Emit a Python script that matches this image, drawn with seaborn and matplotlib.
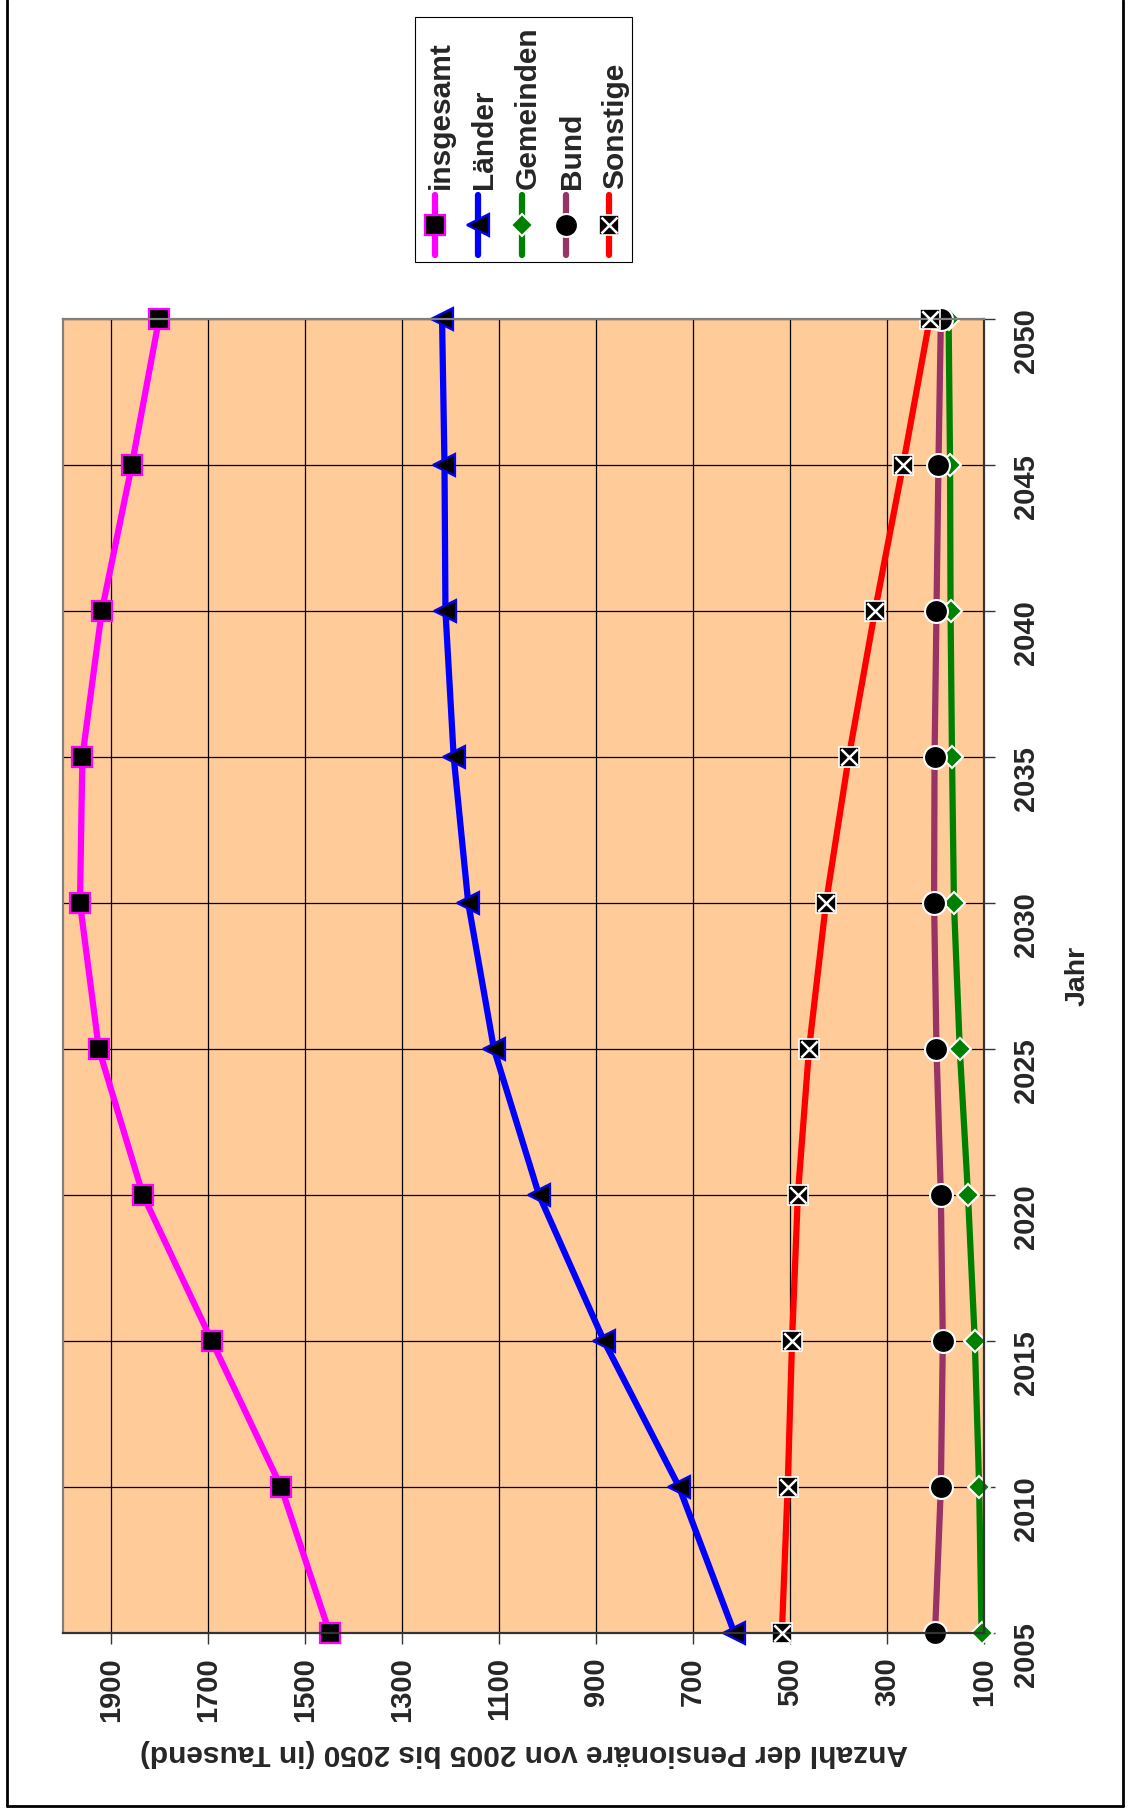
import matplotlib
matplotlib.use("Agg")
import matplotlib.pyplot as plt
import seaborn as sns
import pandas as pd
from matplotlib.lines import Line2D
from matplotlib.patches import Rectangle

# ---------------- data ----------------
years = [2005, 2010, 2015, 2020, 2025, 2030, 2035, 2040, 2045, 2050]
insgesamt = [1450, 1550, 1693, 1835, 1926, 1965, 1960, 1920, 1858, 1802]
laender = [615, 729, 884, 1018, 1111, 1164, 1194, 1211, 1213, 1218]
gemeinden = [105, 110, 119, 133, 150, 162, 166, 169, 170, 173]
bund = [201, 189, 185, 189, 198, 203, 202, 198, 194, 189]
sonstige = [517, 505, 496, 484, 461, 426, 379, 325, 267, 212]
series_names = ["insgesamt", "Länder", "Gemeinden", "Bund", "Sonstige"]
series_values = [insgesamt, laender, gemeinden, bund, sonstige]
value_ticks = [100, 300, 500, 700, 900, 1100, 1300, 1500, 1700, 1900]
x_label = "Anzahl der Pensionäre von 2005 bis 2050 (in Tausend)"
y_label = "Jahr"

# ---------------- style ----------------
sns.set_style("white")
plt.rcParams["font.family"] = ["Liberation Sans", "DejaVu Sans"]
plt.rcParams["font.weight"] = "bold"

W, H = 1128, 1812
fig = plt.figure(figsize=(W / 100, H / 100), dpi=100)
fig.patch.set_facecolor("white")

ax = fig.add_axes([63 / W, 1 - 1633 / H, 921 / W, 1314 / H])
ax.set_facecolor("#FFCC99")

styles = {
    "insgesamt": dict(color="#FF00FF", marker="s", ms=14.5, mfc="black", mec="#FF00FF", mew=1.6),
    "Länder": dict(color="#0000FF", marker="<", ms=15.5, mfc="black", mec="#0000FF", mew=1.6),
    "Gemeinden": dict(color="#008000", marker="D", ms=11, mfc="#008000", mec="white", mew=1.5),
    "Bund": dict(color="#993366", marker="o", ms=16.5, mfc="black", mec="white", mew=1.5),
    "Sonstige": dict(color="#FF0000", marker="s", ms=14, mfc="black", mec="white", mew=1.2),
}
LW = 4.5

df = pd.DataFrame(
    [(n, y, v) for n, vals in zip(series_names, series_values) for y, v in zip(years, vals)],
    columns=["Reihe", "Jahr", "Wert"],
)

for name in series_names:
    sub = df[df["Reihe"] == name]
    st = styles[name]
    sns.lineplot(data=sub, x="Wert", y="Jahr", orient="y", estimator=None,
                 ax=ax, lw=LW, clip_on=False, legend=False, **st)
    if name == "Sonstige":
        sns.scatterplot(data=sub, x="Wert", y="Jahr", marker="x", s=140,
                        color="white", linewidth=1.8, ax=ax, zorder=3,
                        clip_on=False, legend=False)

ax.set_xlim(2000, 100)
ax.set_ylim(2005, 2050)

ax.set_axisbelow(True)
ax.grid(True, color="black", lw=0.9)

ax.set_xticks(value_ticks)
ax.set_xticklabels([str(v) for v in value_ticks], rotation=90)
ax.yaxis.tick_right()
ax.set_yticks(years)
ax.set_yticklabels([str(y) for y in years], rotation=90)
ax.tick_params(axis="x", direction="out", length=8, width=1, color="#333333",
               labelsize=21, pad=9.5, bottom=True)
ax.tick_params(axis="y", direction="out", length=8, width=1, color="#333333",
               labelsize=21, pad=12.5, right=True, left=False)
for lab in ax.get_xticklabels() + ax.get_yticklabels():
    lab.set_fontweight("bold")

for side, col in [("top", "#808080"), ("left", "#808080"),
                  ("right", "#333333"), ("bottom", "#333333")]:
    ax.spines[side].set_visible(True)
    ax.spines[side].set_color(col)
    ax.spines[side].set_linewidth(1.6)

ax.set_xlabel(x_label, fontsize=21.5, fontweight="bold", rotation=180)
ax.xaxis.set_label_coords(0.5, -0.0913)
ax.xaxis.label.set_va("center")
ax.xaxis.label.set_ha("center")
ax.yaxis.set_label_position("right")
ax.set_ylabel(y_label, fontsize=20.5, fontweight="bold", rotation=90)
ax.yaxis.set_label_coords(1.102, 0.5)
ax.yaxis.label.set_va("center")
ax.yaxis.label.set_ha("center")


# ---------------- legend (drawn rotated) ----------------
def fx(px):
    return px / W


def fy(py):
    return 1 - py / H


fig.add_artist(Rectangle((fx(415), fy(262)), 217 / W, 245 / H, transform=fig.transFigure,
                         facecolor="white", edgecolor="black", lw=0.8, zorder=5))
entry_x = [435, 478, 522, 566, 609]
for name, ex in zip(series_names, entry_x):
    st = styles[name]
    fig.add_artist(Line2D([fx(ex), fx(ex)], [fy(195), fy(255)], transform=fig.transFigure,
                          color=st["color"], lw=LW, solid_capstyle="round", zorder=6))
    fig.add_artist(Line2D([fx(ex)], [fy(225)], transform=fig.transFigure, linestyle="none",
                          marker=st["marker"], ms=st["ms"], mfc=st["mfc"], mec=st["mec"],
                          mew=st["mew"], zorder=7))
    if name == "Sonstige":
        fig.add_artist(Line2D([fx(ex)], [fy(225)], transform=fig.transFigure, linestyle="none",
                              marker="x", ms=11.5, mec="white", mew=1.8, zorder=8))
    fig.text(fx(ex + 14), fy(189), name, rotation=90, rotation_mode="anchor",
             ha="left", va="baseline", fontsize=21.5, fontweight="bold", zorder=8)

# ---------------- outer frame ----------------
fig.add_artist(Line2D([fx(7), fx(7)], [fy(0), fy(1806)], transform=fig.transFigure,
                      color="black", lw=2))
fig.add_artist(Line2D([fx(7), fx(1123)], [fy(1806), fy(1806)], transform=fig.transFigure,
                      color="black", lw=2))
fig.add_artist(Line2D([fx(1123), fx(1123)], [fy(0), fy(1806)], transform=fig.transFigure,
                      color="black", lw=2))

fig.savefig("out.png", dpi=100)
